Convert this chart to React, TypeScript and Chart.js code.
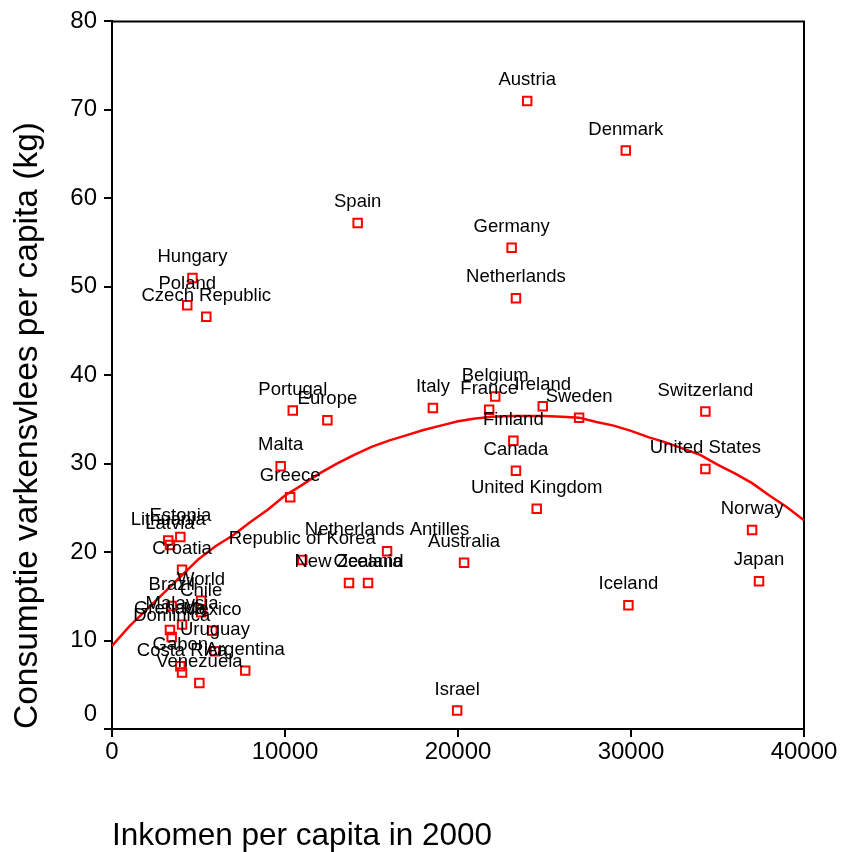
import React, { useEffect, useRef } from "react";
import { Chart, registerables } from "chart.js";

Chart.register(...registerables);

const FONT = "'Liberation Sans', Arial, Helvetica, sans-serif";

const countries = [
  "Austria", "Denmark", "Spain", "Germany", "Netherlands", "Hungary", "Poland", "Czech Republic",
  "Portugal", "Europe", "Malta", "Greece", "Republic of Korea", "Netherlands Antilles", "New Zealand", "Oceania",
  "Italy", "Belgium", "France", "Ireland", "Sweden", "Finland", "Canada", "United Kingdom",
  "Switzerland", "United States", "Norway", "Japan", "Iceland", "Australia", "Israel", "Argentina",
  "Estonia", "Lithuania", "Latvia", "Croatia", "World", "Chile", "Brazil", "Malaysia",
  "Mexico", "Grenada", "Dominica", "Uruguay", "Gabon", "Costa Rica", "Venezuela",
];

const income = [
  24000, 29700, 14200, 23100, 23350, 4650, 4350, 5450,
  10450, 12450, 9750, 10300, 11000, 15900, 13700, 14800,
  18550, 22150, 21800, 24900, 27000, 23200, 23350, 24550,
  34300, 34300, 37000, 37400, 29850, 20350, 19950, 7700,
  3950, 3250, 3350, 4050, 5150, 5150, 3450, 4050,
  5800, 3350, 3450, 5950, 3950, 4050, 5050,
];

const pork = [
  71.0, 65.4, 57.2, 54.4, 48.7, 51.0, 47.9, 46.6,
  36.0, 34.9, 29.7, 26.2, 19.1, 20.1, 16.5, 16.5,
  36.3, 37.6, 36.1, 36.5, 35.2, 32.6, 29.2, 24.9,
  35.9, 29.4, 22.5, 16.7, 14.0, 18.8, 2.1, 6.6,
  21.7, 21.3, 20.8, 18.0, 14.5, 13.2, 13.9, 11.8,
  11.1, 11.2, 10.4, 8.8, 7.1, 6.4, 5.2,
];

const curveX = [
  0, 1000, 2000, 3000, 4000, 5000, 6000, 7000, 8000, 9000, 10000,
  11000, 12000, 13000, 14000, 15000, 16000, 17000, 18000, 19000, 20000,
  21000, 22000, 23000, 24000, 25000, 26000, 27000, 28000, 29000, 30000,
  31000, 32000, 33000, 34000, 35000, 36000, 37000, 38000, 39000, 40000,
];
const curveY = [
  9.4, 11.6, 13.5, 15.4, 17.3, 19.2, 20.7, 21.9, 23.4, 24.8, 26.4,
  27.6, 28.9, 30.0, 31.0, 31.9, 32.6, 33.2, 33.8, 34.3, 34.8,
  35.1, 35.3, 35.4, 35.4, 35.4, 35.3, 35.2, 34.7, 34.3, 33.7,
  33.0, 32.4, 31.7, 31.0, 29.9, 28.9, 27.8, 26.4, 25.1, 23.6,
];

const xTitle = "Inkomen per capita in 2000";
const yTitle = "Consumptie varkensvlees per capita (kg)";

const labelPlugin = {
  id: "pointLabels",
  afterDatasetsDraw(chart: any) {
    const meta = chart.getDatasetMeta(0);
    const ctx = chart.ctx;
    ctx.save();
    ctx.font = `18.5px ${FONT}`;
    ctx.fillStyle = "#000";
    ctx.textAlign = "center";
    ctx.textBaseline = "middle";
    meta.data.forEach((el: any, i: number) => {
      ctx.fillText(countries[i], el.x, el.y - 21);
    });
    ctx.restore();
  },
};

const framePlugin = {
  id: "frame",
  beforeDatasetsDraw(chart: any) {
    const { ctx, chartArea: a } = chart;
    ctx.save();
    ctx.strokeStyle = "#000";
    ctx.lineWidth = 2;
    ctx.beginPath();
    ctx.moveTo(a.left, a.top);
    ctx.lineTo(a.right, a.top);
    ctx.lineTo(a.right, a.bottom);
    ctx.stroke();
    ctx.restore();
  },
};

export default function App() {
  const ref = useRef<HTMLCanvasElement | null>(null);

  useEffect(() => {
    if (!ref.current) return;
    Chart.defaults.font.family = FONT;
    const chart = new Chart(ref.current, {
      type: "scatter",
      data: {
        datasets: [
          {
            label: "Landen",
            data: income.map((x, i) => ({ x, y: pork[i] })),
            pointStyle: "rect",
            pointRadius: 6,
            pointBorderWidth: 2,
            borderColor: "#ff0000",
            backgroundColor: "rgba(255,255,255,0)",
          },
          {
            label: "Trend",
            data: curveX.map((x, i) => ({ x, y: curveY[i] })),
            showLine: true,
            pointRadius: 0,
            borderColor: "#ff0000",
            borderWidth: 2.5,
            tension: 0,
          },
        ],
      },
      options: {
        animation: false,
        responsive: false,
        devicePixelRatio: 1,
        layout: { padding: { left: 0, top: 21, right: 37, bottom: 0 } },
        plugins: { legend: { display: false }, tooltip: { enabled: false } },
        scales: {
          x: {
            type: "linear",
            min: 0,
            max: 40000,
            afterFit: (s: any) => {
              s.height = 123;
            },
            ticks: {
              stepSize: 10000,
              color: "#000",
              padding: 1,
              maxRotation: 0,
              autoSkip: false,
              font: { size: 24, family: FONT },
              callback: (v: any) => String(v),
            },
            grid: { drawOnChartArea: false, drawTicks: true, tickLength: 8, color: "#000", lineWidth: 2 },
            border: { display: true, color: "#000", width: 2 },
            title: {
              display: true,
              text: xTitle,
              align: "start",
              color: "#000",
              font: { size: 31.5, family: FONT, lineHeight: 1 },
              padding: { top: 0, bottom: 0 },
            },
          },
          y: {
            type: "linear",
            min: 0,
            max: 80,
            afterFit: (s: any) => {
              s.width = 112;
            },
            ticks: {
              stepSize: 10,
              color: "#000",
              padding: 7,
              font: { size: 24, family: FONT },
              callback: (v: any) => (v === 0 ? ["0", ""] : String(v)),
            },
            grid: { drawOnChartArea: false, drawTicks: true, tickLength: 8, color: "#000", lineWidth: 2 },
            border: { display: true, color: "#000", width: 2 },
            title: {
              display: true,
              text: yTitle,
              align: "start",
              color: "#000",
              font: { size: 33.5, family: FONT, lineHeight: 1 },
              padding: { top: 11, bottom: 0 },
            },
          },
        },
      },
      plugins: [framePlugin, labelPlugin],
    } as any);
    return () => chart.destroy();
  }, []);

  return (
    <div style={{ position: "fixed", left: 0, top: 0, width: 841, height: 852, background: "#fff" }}>
      <canvas ref={ref} width={841} height={852} style={{ width: 841, height: 852, display: "block" }} />
    </div>
  );
}
